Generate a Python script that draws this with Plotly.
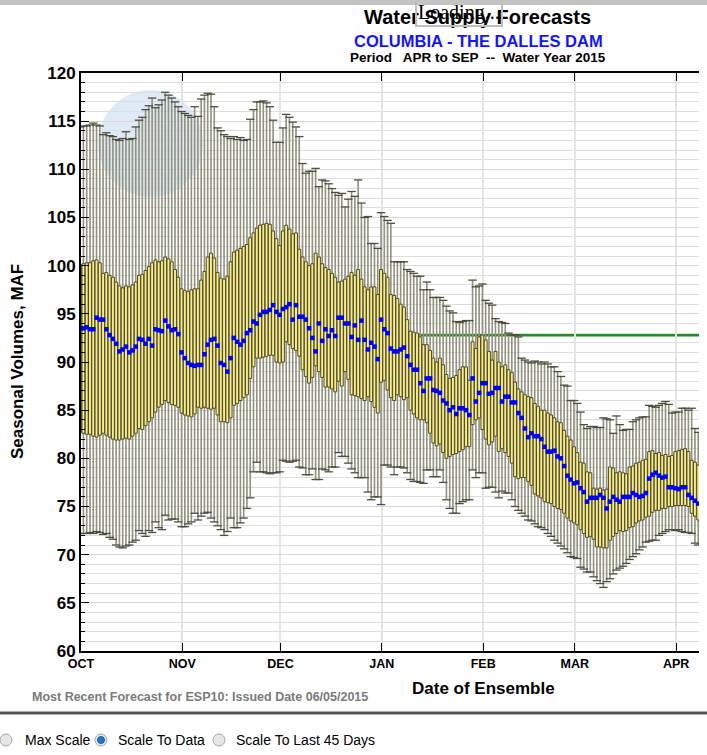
import plotly.graph_objects as go
import pandas as pd

# ---------------- data ----------------
MONTH_STARTS = ["2014-10-01", "2014-11-01", "2014-12-01", "2015-01-01",
                "2015-02-01", "2015-03-01", "2015-04-01"]
MONTH_LABELS = ["OCT", "NOV", "DEC", "JAN", "FEB", "MAR", "APR"]
FIRST_ENSEMBLE = "2014-09-30 18:00"   # daily ensembles, one box per day
OBSERVED_VOLUME = 92.8                # green reference line (MAF)

MAX_V = [
    114.4, 114.5, 114.5, 114.6, 114.8, 114.6, 114.5, 113.6, 113.8, 113.5,
    113.4, 113.1, 113.0, 113.2, 113.9, 113.1, 113.2, 114.4, 115.1, 115.4,
    116.2, 116.6, 117.4, 116.4, 116.7, 117.2, 118.0, 117.7, 117.4, 117.0,
    116.5, 116.0, 115.8, 115.6, 115.4, 116.5, 115.5, 117.3, 117.7, 117.9,
    117.8, 116.5, 114.3, 114.0, 113.6, 113.4, 113.2, 113.4, 113.1, 113.3,
    113.0, 113.1, 115.2, 116.2, 117.0, 117.0, 117.1, 116.9, 116.5, 115.1,
    112.8, 112.8, 114.3, 115.7, 115.4, 114.9, 114.4, 113.4, 110.6, 109.6,
    109.8, 109.8, 110.1, 108.2, 108.9, 108.8, 108.5, 108.0, 107.6, 107.3,
    107.5, 106.1, 106.9, 107.7, 107.2, 108.9, 106.5, 105.0, 105.1, 102.3,
    102.3, 101.8, 105.5, 105.1, 104.7, 104.4, 100.4, 100.4, 100.4, 100.4,
    99.6, 99.4, 99.2, 98.9, 98.9, 97.5, 98.3, 97.5, 96.7, 96.7,
    96.7, 96.4, 95.8, 95.3, 95.1, 94.2, 94.1, 94.2, 94.3, 94.3,
    98.5, 97.8, 97.9, 98.1, 96.4, 96.1, 95.9, 94.5, 94.2, 94.1,
    94.0, 93.0, 92.8, 92.8, 92.6, 90.4, 90.2, 90.0, 89.9, 90.1,
    90.0, 89.8, 90.0, 89.8, 89.5, 89.5, 89.0, 88.5, 87.6, 87.5,
    86.0, 86.0, 85.7, 84.8, 83.5, 83.1, 83.3, 83.3, 83.2, 83.2,
    84.2, 84.1, 84.0, 82.6, 84.4, 83.5, 82.9, 83.0, 83.0, 83.8,
    84.0, 84.2, 84.3, 84.3, 85.5, 85.4, 85.3, 85.5, 85.7, 85.9,
    85.6, 84.7, 84.8, 84.8, 85.2, 85.2, 85.0, 85.2, 83.1, 82.7,
]

Q3_V = [
    100.1, 100.2, 100.3, 100.3, 100.5, 100.6, 100.3, 99.2, 99.3, 99.0,
    98.8, 98.3, 97.9, 97.7, 97.9, 97.8, 98.0, 98.3, 99.0, 99.1,
    99.5, 99.9, 100.3, 100.6, 100.4, 100.5, 100.9, 100.7, 100.4, 99.6,
    98.8, 97.6, 97.4, 97.3, 97.5, 97.6, 97.6, 98.5, 99.4, 100.9,
    101.3, 100.8, 99.3, 98.7, 98.6, 98.9, 100.4, 101.4, 101.6, 101.8,
    102.0, 102.2, 102.9, 103.4, 103.9, 104.2, 104.3, 104.4, 104.3, 103.6,
    102.8, 102.1, 103.6, 104.2, 103.8, 103.3, 103.4, 101.7, 100.9, 100.4,
    100.0, 100.2, 101.3, 100.9, 100.2, 99.8, 99.6, 99.2, 98.8, 98.3,
    98.4, 98.6, 98.9, 99.3, 99.0, 99.6, 98.6, 97.8, 97.5, 97.8,
    97.8, 97.0, 99.6, 99.2, 98.8, 97.0, 96.9, 96.6, 96.0, 95.7,
    94.4, 93.2, 93.1, 93.0, 92.6, 91.8, 91.8, 91.2, 90.4, 90.0,
    90.4, 89.7, 88.7, 88.3, 88.4, 88.6, 89.2, 89.5, 89.5, 88.1,
    92.1, 91.4, 92.6, 92.8, 92.3, 91.1, 90.2, 91.1, 90.0, 89.5,
    89.7, 89.2, 88.9, 87.9, 87.2, 86.9, 86.6, 86.4, 86.3, 85.7,
    85.4, 85.0, 85.0, 84.7, 84.5, 84.2, 83.8, 83.7, 82.9, 82.3,
    81.9, 81.2, 80.6, 79.6, 79.5, 78.6, 78.5, 76.9, 76.8, 76.9,
    76.7, 76.8, 79.1, 79.0, 78.5, 78.6, 78.5, 78.4, 79.1, 79.2,
    79.5, 79.6, 79.8, 79.9, 80.7, 80.8, 80.5, 80.6, 80.3, 80.4,
    80.2, 80.3, 80.7, 80.8, 80.9, 81.0, 80.7, 79.8, 79.6, 79.3,
]

MED_V = [
    93.5, 93.5, 93.6, 93.4, 93.4, 94.6, 94.4, 94.4, 93.4, 92.8,
    92.4, 91.9, 91.1, 91.3, 91.6, 91.0, 91.2, 91.6, 92.4, 92.3,
    91.9, 92.4, 91.7, 93.4, 93.3, 93.2, 94.3, 93.7, 93.3, 93.4,
    92.9, 91.0, 90.4, 89.9, 89.7, 89.6, 89.7, 89.7, 90.8, 91.8,
    92.3, 92.4, 91.7, 89.9, 89.7, 89.0, 90.4, 92.5, 92.1, 91.8,
    92.2, 93.0, 93.3, 94.2, 94.0, 94.9, 95.2, 95.2, 95.4, 95.9,
    95.2, 94.9, 95.5, 95.7, 96.0, 94.4, 95.9, 94.7, 94.7, 94.4,
    93.5, 92.5, 91.1, 94.0, 92.2, 93.4, 92.7, 93.3, 92.7, 94.6,
    94.6, 94.0, 94.0, 92.6, 93.8, 92.3, 94.3, 92.3, 91.3, 92.0,
    91.6, 90.3, 94.4, 93.4, 93.0, 91.4, 91.1, 91.1, 91.3, 91.5,
    90.6, 89.7, 89.2, 89.2, 87.8, 87.0, 88.3, 88.3, 87.1, 87.0,
    86.8, 86.0, 85.7, 85.0, 85.3, 84.6, 85.2, 85.2, 85.0, 84.5,
    88.3, 85.9, 86.8, 87.8, 87.8, 86.7, 86.8, 87.3, 87.3, 85.9,
    86.4, 86.4, 85.8, 85.8, 84.7, 84.2, 83.1, 82.2, 82.6, 82.3,
    82.3, 82.0, 81.2, 80.7, 80.7, 80.8, 80.2, 80.0, 79.2, 78.2,
    77.8, 77.4, 77.5, 76.9, 76.5, 75.5, 75.9, 75.9, 75.9, 76.2,
    75.9, 74.8, 75.5, 76.0, 75.7, 75.5, 76.0, 76.0, 76.0, 76.4,
    76.2, 76.0, 76.1, 76.4, 77.9, 78.3, 78.5, 78.2, 78.0, 78.1,
    77.0, 77.0, 76.9, 76.8, 77.0, 77.0, 76.2, 75.9, 75.6, 75.3,
]

Q1_V = [
    82.7, 82.6, 82.5, 82.5, 82.3, 82.2, 82.4, 82.6, 82.4, 82.2,
    82.0, 81.9, 81.9, 82.0, 82.1, 82.0, 82.3, 82.6, 83.1, 83.0,
    83.4, 83.8, 84.2, 84.8, 85.3, 85.6, 86.0, 85.8, 85.6, 85.5,
    85.3, 84.7, 84.5, 84.4, 84.3, 84.6, 85.3, 85.2, 85.3, 85.2,
    85.1, 85.2, 84.5, 83.8, 83.8, 83.7, 84.2, 85.5, 85.7, 86.0,
    86.3, 86.6, 88.3, 89.5, 90.4, 90.4, 90.5, 90.6, 90.7, 90.7,
    90.0, 89.9, 90.0, 92.1, 91.8, 91.4, 91.2, 90.6, 89.2, 88.5,
    87.8, 88.4, 89.6, 89.0, 88.4, 87.4, 87.4, 87.2, 86.9, 88.0,
    87.5, 89.0, 88.2, 86.6, 86.5, 86.4, 86.2, 86.0, 86.4, 85.9,
    85.3, 84.7, 87.9, 88.1, 87.1, 86.3, 86.0, 86.6, 86.4, 86.1,
    86.3, 85.0, 84.6, 84.2, 84.0, 84.0, 83.7, 82.6, 81.6, 81.3,
    81.5, 80.6, 80.0, 80.2, 80.4, 80.5, 80.7, 80.9, 81.2, 81.2,
    83.5, 84.0, 84.2, 83.0, 82.0, 81.4, 81.7, 82.3, 80.7, 81.0,
    80.6, 80.2, 79.5, 78.1, 77.9, 78.0, 78.0, 77.6, 77.2, 76.3,
    76.1, 75.9, 75.5, 75.4, 75.3, 75.0, 74.8, 74.7, 74.3, 73.8,
    73.5, 73.3, 73.1, 72.6, 72.2, 71.8, 71.9, 71.6, 70.8, 70.8,
    70.7, 70.7, 71.5, 71.9, 72.2, 72.5, 72.4, 72.5, 72.8, 72.9,
    73.3, 73.5, 73.6, 73.9, 74.0, 74.4, 74.6, 74.6, 74.8, 74.8,
    75.0, 75.0, 75.1, 75.1, 75.1, 75.1, 75.0, 74.3, 74.0, 73.6,
]

MIN_V = [
    72.2, 72.2, 72.2, 72.3, 72.2, 72.4, 72.3, 72.1, 72.2, 71.8,
    71.6, 71.0, 70.8, 70.7, 70.9, 71.0, 71.3, 71.5, 72.5, 72.2,
    71.9, 72.5, 72.3, 73.4, 72.8, 72.6, 74.1, 73.6, 73.7, 73.7,
    73.4, 72.9, 72.9, 73.2, 73.4, 74.3, 73.6, 74.0, 74.3, 74.4,
    73.8, 73.4, 73.0, 72.6, 72.0, 72.4, 73.8, 72.8, 72.8, 73.3,
    73.8, 74.8, 75.9, 78.6, 79.6, 78.6, 78.6, 78.5, 78.4, 78.5,
    78.5, 78.6, 79.8, 79.7, 79.6, 79.7, 79.8, 79.1, 79.0, 78.3,
    78.3, 78.9, 77.8, 77.8, 78.9, 78.8, 78.6, 79.1, 79.1, 80.6,
    80.2, 80.2, 79.5, 78.9, 78.5, 78.0, 78.0, 78.0, 76.5, 75.7,
    76.0, 76.0, 75.2, 79.3, 79.3, 79.1, 78.3, 79.1, 79.1, 79.0,
    78.5, 77.8, 77.6, 77.6, 77.5, 77.4, 78.8, 78.8, 78.1, 78.1,
    78.8, 77.5, 75.7, 74.8, 74.3, 74.3, 75.3, 75.5, 75.7, 75.7,
    78.8, 78.0, 78.5, 78.5, 76.9, 77.0, 77.0, 76.5, 75.9, 76.6,
    76.4, 76.4, 75.7, 75.0, 74.6, 74.3, 74.0, 73.6, 73.5, 73.2,
    72.9, 72.8, 72.6, 72.2, 71.9, 71.5, 71.2, 70.9, 70.6, 70.2,
    69.8, 69.7, 69.6, 68.7, 68.5, 68.2, 68.2, 67.7, 67.3, 67.0,
    66.6, 67.2, 67.5, 68.0, 68.4, 68.6, 68.8, 69.1, 69.5, 69.8,
    70.1, 70.5, 70.8, 71.3, 71.4, 71.5, 71.5, 72.0, 72.2, 72.4,
    72.6, 72.6, 72.5, 72.6, 72.4, 72.3, 72.3, 72.2, 71.2, 71.0,
]

N = len(MED_V)
assert all(len(a) == N for a in (MAX_V, Q3_V, Q1_V, MIN_V)), [len(a) for a in (MAX_V, Q3_V, MED_V, Q1_V, MIN_V)]

dates = list(pd.date_range(FIRST_ENSEMBLE, periods=N, freq="D"))
DAY_MS = 86400000

FONT = "Liberation Sans, Arial, Helvetica, sans-serif"

fig = go.Figure()

# whiskers (min..max), drawn first so the boxes cover them
fig.add_trace(go.Bar(
    x=dates, base=MIN_V, y=[hi - lo for hi, lo in zip(MAX_V, MIN_V)],
    width=0.5 * DAY_MS,
    marker=dict(color="#92927f", line=dict(width=0)),
    hoverinfo="skip", showlegend=False,
))
# boxes q1..q3
fig.add_trace(go.Bar(
    x=dates, base=Q1_V, y=[hi - lo for hi, lo in zip(Q3_V, Q1_V)],
    width=0.9 * DAY_MS,
    marker=dict(color="#f6ec8a", line=dict(color="#4f4b2a", width=1)),
    hoverinfo="skip", showlegend=False,
))
# whisker caps
fig.add_trace(go.Scatter(
    x=dates + dates, y=MAX_V + MIN_V, mode="markers",
    marker=dict(symbol="line-ew", size=6, line=dict(width=1.3, color="#4d4d40")),
    hoverinfo="skip", showlegend=False,
))
# medians
fig.add_trace(go.Scatter(
    x=dates, y=MED_V, mode="markers",
    marker=dict(symbol="square", size=4.5, color="#0000ff", line=dict(width=0)),
    hoverinfo="skip", showlegend=False,
))

W, H = 707, 755
L, R, T, B = 81, 8, 73, 104
PW = W - L - R
PH = H - T - B


def px(sx):
    return (sx - L) / PW


def py(sy):
    return (T + PH - sy) / PH


shapes = [
    # faint logo watermark
    dict(type="circle", xref="paper", yref="paper",
         x0=px(98), x1=px(203), y0=py(197), y1=py(90),
         fillcolor="rgba(176,205,230,0.42)", line=dict(width=0), layer="below"),
    # observed volume line
    dict(type="line", xref="paper", yref="y", x0=0, x1=1,
         y0=OBSERVED_VOLUME, y1=OBSERVED_VOLUME,
         line=dict(color="#1f8f1f", width=3), layer="between"),
    # top grey band
    dict(type="line", xref="paper", yref="paper", x0=px(0), x1=px(707),
         y0=py(2.5), y1=py(2.5), line=dict(color="#c4c4c4", width=5)),
    # bottom separator
    dict(type="line", xref="paper", yref="paper", x0=px(0), x1=px(707),
         y0=py(713), y1=py(713), line=dict(color="#555555", width=3)),
]
# radio buttons
for cx, sel in ((6, False), (101, True), (219, False)):
    shapes.append(dict(type="circle", xref="paper", yref="paper",
                       x0=px(cx - 6), x1=px(cx + 6), y0=py(740 + 6), y1=py(740 - 6),
                       fillcolor="#e6e6e6", line=dict(color="#a8a8a8", width=1)))
    if sel:
        shapes.append(dict(type="circle", xref="paper", yref="paper",
                           x0=px(cx - 3.5), x1=px(cx + 3.5), y0=py(740 + 3.5), y1=py(740 - 3.5),
                           fillcolor="#1f78c8", line=dict(color="#185e9c", width=1)))

annotations = [
    dict(text="Water Supply Forecasts", x=px(477), y=py(17), xref="paper", yref="paper",
         showarrow=False, xanchor="center", yanchor="middle",
         font=dict(family=FONT, size=20, color="black", weight="bold")),
    dict(text="Loading...", x=px(459), y=py(12), xref="paper", yref="paper",
         showarrow=False, xanchor="center", yanchor="middle",
         font=dict(family="Liberation Serif, Times New Roman, serif", size=20, color="black"),
         bordercolor="#bdbdbd", borderwidth=2, borderpad=1),
    dict(text="COLUMBIA - THE DALLES DAM", x=px(478), y=py(41), xref="paper", yref="paper",
         showarrow=False, xanchor="center", yanchor="middle",
         font=dict(family=FONT, size=16.5, color="#1414ff", weight="bold")),
    dict(text="Period\u00a0\u00a0 APR to SEP\u00a0 -- \u00a0Water Year 2015", x=px(478), y=py(57),
         xref="paper", yref="paper", showarrow=False, xanchor="center", yanchor="middle",
         font=dict(family=FONT, size=13.5, color="black", weight="bold")),
    dict(text="Seasonal Volumes, MAF", x=px(17), y=py(362), xref="paper", yref="paper",
         showarrow=False, xanchor="center", yanchor="middle", textangle=-90,
         font=dict(family=FONT, size=17, color="black", weight="bold")),
    dict(text="Date of Ensemble", x=px(483), y=py(689), xref="paper", yref="paper",
         showarrow=False, xanchor="center", yanchor="middle",
         font=dict(family=FONT, size=17, color="black", weight="bold")),
    dict(text="Most Recent Forecast for ESP10: Issued Date 06/05/2015", x=px(200), y=py(697),
         xref="paper", yref="paper", showarrow=False, xanchor="center", yanchor="middle",
         font=dict(family=FONT, size=12.5, color="#7a7a7a", weight="bold")),
    dict(text="Max Scale", x=px(23), y=py(740), xref="paper", yref="paper",
         showarrow=False, xanchor="left", yanchor="middle",
         font=dict(family=FONT, size=14, color="black")),
    dict(text="Scale To Data", x=px(116), y=py(740), xref="paper", yref="paper",
         showarrow=False, xanchor="left", yanchor="middle",
         font=dict(family=FONT, size=14, color="black")),
    dict(text="Scale To Last 45 Days", x=px(234), y=py(740), xref="paper", yref="paper",
         showarrow=False, xanchor="left", yanchor="middle",
         font=dict(family=FONT, size=14, color="black")),
]

PX_PER_DAY = 3.27
x_start = pd.Timestamp("2014-10-01")
x_end = x_start + pd.Timedelta(days=PW / PX_PER_DAY)

fig.update_layout(
    width=W, height=H, autosize=False,
    margin=dict(l=L, r=R, t=T, b=B, pad=0),
    paper_bgcolor="white", plot_bgcolor="white",
    barmode="overlay", showlegend=False, hovermode=False,
    shapes=shapes, annotations=annotations,
    xaxis=dict(
        type="date", range=[x_start, x_end], automargin=False,
        tickmode="array", tickvals=MONTH_STARTS, ticktext=MONTH_LABELS,
        ticks="inside", ticklen=8, tickwidth=1, tickcolor="black",
        showline=True, linecolor="black", linewidth=2, mirror="ticks",
        showgrid=True, gridcolor="#e4e4e4", gridwidth=2, zeroline=False,
        tickfont=dict(family=FONT, size=12.5, color="black", weight="bold"),
        fixedrange=True,
    ),
    yaxis=dict(
        range=[60, 120], tick0=60, dtick=5, automargin=False,
        ticks="inside", ticklen=8, tickwidth=1, tickcolor="black",
        showline=True, linecolor="black", linewidth=2, mirror=False,
        showgrid=True, gridcolor="#d9d9d9", gridwidth=1, zeroline=False,
        minor=dict(dtick=1, ticks="inside", ticklen=4, tickcolor="black",
                   showgrid=True, gridcolor="#dedede", gridwidth=1),
        tickfont=dict(family=FONT, size=17, color="black", weight="bold"),
        fixedrange=True,
    ),
)

fig.write_html(
    "out.html",
    config={"displayModeBar": False, "staticPlot": True},
    post_script=("document.body.style.margin='0';"
                 "document.body.style.overflow='hidden';"
                 "document.documentElement.style.overflow='hidden';"),
)
